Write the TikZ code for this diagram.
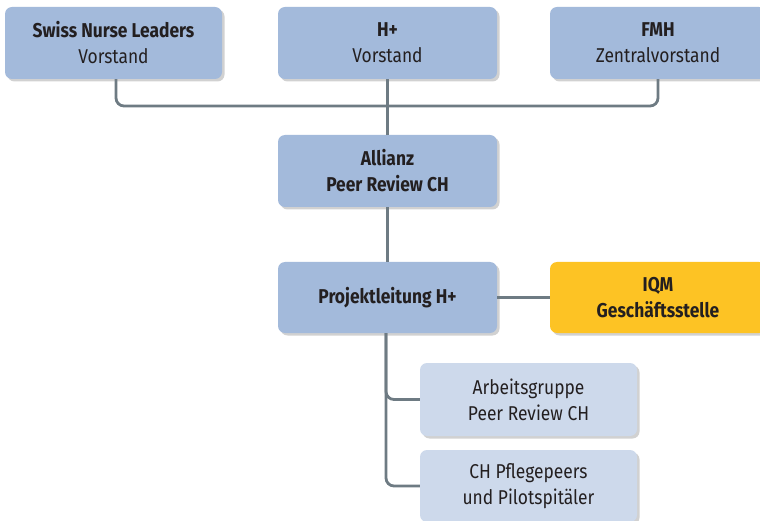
\documentclass[tikz,border=0pt]{standalone}
\usepackage{fontspec}
\setmainfont{Fira Sans}[FakeStretch=0.87]
\usetikzlibrary{shadows}
\definecolor{boxdark}{HTML}{A3BADB}
\definecolor{boxlight}{HTML}{CDD9EB}
\definecolor{boxyellow}{HTML}{FDC324}
\definecolor{linecol}{HTML}{6E7B83}
\definecolor{txt}{HTML}{231F20}
\tikzset{
  orgbox/.style={rectangle, rounded corners=7pt, inner sep=0pt, align=center,
    font=\fontsize{20}{26}\selectfont, text=txt,
    drop shadow={shadow xshift=2.5pt, shadow yshift=-2.5pt, opacity=0.3, fill=black!60}},
  darkbox/.style={orgbox, fill=boxdark},
  lightbox/.style={orgbox, fill=boxlight},
  yellowbox/.style={orgbox, fill=boxyellow},
  conn/.style={draw=linecol, line width=2.8pt, rounded corners=8pt}
}
\begin{document}
\begin{tikzpicture}[x=1pt,y=-1pt]
\useasboundingbox (0,0) rectangle (760,521);
\node[darkbox, minimum width=217pt, minimum height=72pt] (sn) at (113.5,43) {\bfseries Swiss Nurse Leaders\\Vorstand};
\node[darkbox, minimum width=219pt, minimum height=72pt] (hp) at (387.5,43) {\bfseries H+\\Vorstand};
\node[darkbox, minimum width=216pt, minimum height=72pt] (fmh) at (658,43) {\bfseries FMH\\Zentralvorstand};
\node[darkbox, minimum width=219pt, minimum height=72pt] (al) at (387.5,171) {\bfseries Allianz\\\bfseries Peer Review CH};
\node[darkbox, minimum width=219pt, minimum height=71pt] (pl) at (387.5,297.5) {\bfseries Projektleitung H+};
\node[yellowbox, minimum width=216pt, minimum height=71pt] (iqm) at (658,297.5) {\bfseries IQM\\\bfseries Geschäftsstelle};
\node[lightbox, minimum width=217pt, minimum height=73pt] (ag) at (528.5,399.5) {Arbeitsgruppe\\Peer Review CH};
\node[lightbox, minimum width=217pt, minimum height=72pt] (cp) at (528.5,486) {CH Pflegepeers\\und Pilotspitäler};
\coordinate (bus) at (387.5,106);
\draw[conn] (sn.south -| 116,0) |- (bus) -| (fmh.south -| 658,0);
\draw[conn] (hp.south) -- (al.north);
\draw[conn] (al.south) -- (pl.north);
\draw[conn] (pl.east) -- (iqm.west);
\draw[conn] (pl.south -| 386,0) |- (ag.west);
\draw[conn] (pl.south -| 386,0) |- (cp.west);
\end{tikzpicture}
\end{document}
